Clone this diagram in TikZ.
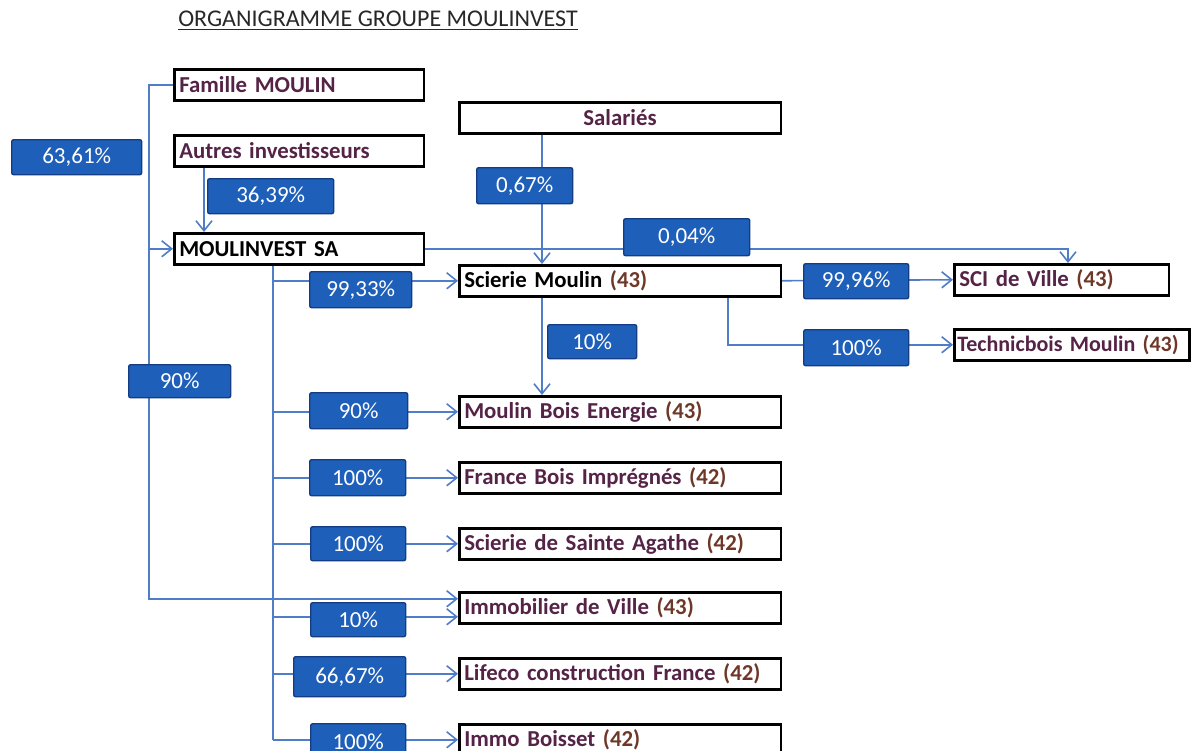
\documentclass[tikz,border=0pt]{standalone}
\usepackage{fontspec}
\setmainfont{Carlito}
\usetikzlibrary{arrows.meta}
\definecolor{txt}{RGB}{85,35,70}
\definecolor{num}{RGB}{110,55,40}
\definecolor{lnk}{RGB}{80,125,200}
\definecolor{lblue}{RGB}{30,95,185}
\definecolor{dblue}{RGB}{20,60,130}
\newcommand{\nb}[1]{\textcolor{num}{#1}}
\tikzset{
  obox/.style={draw=black, line width=1.25pt, fill=white, inner xsep=2.5pt, inner ysep=0pt,
    minimum height=15.5pt, text width=#1, align=left, anchor=north west,
    font=\fontsize{11.4pt}{13pt}\selectfont\bfseries, text=txt},
  pct/.style={fill=lblue, draw=dblue, line width=0.7pt, rounded corners=1pt, text=white,
    inner sep=0pt, anchor=north west, font=\fontsize{11.5pt}{13pt}\selectfont},
  conn/.style={draw=lnk, line width=0.8pt},
  arr/.style={conn, -{Straight Barb[length=5pt,width=8pt,line width=0.8pt]}}
}
\begin{document}
\begin{tikzpicture}[x=0.5pt,y=-0.5pt]
\useasboundingbox (0,0) rectangle (1192,750);
\clip (0,0) rectangle (1192,750);
\fill[white] (0,0) rectangle (1192,750);
% title
\node[font=\fontsize{12pt}{14pt}\selectfont, text={rgb,255:red,40;green,40;blue,40}, inner sep=0pt] (title) at (378,21) {\underline{ORGANIGRAMME GROUPE MOULINVEST}};
% boxes
\node[obox=119.75pt] (fam) at (173,68) {Famille MOULIN};
\node[obox=119.75pt] (aut) at (173,134) {Autres investisseurs};
\node[obox=119.75pt, text=black] (mi) at (173,232) {MOULINVEST SA};
\node[obox=155.75pt, align=center] (sal) at (458,101) {Salariés};
\node[obox=155.75pt, text=black] (sci) at (458,264) {Scierie Moulin \nb{(43)}};
\node[obox=102.25pt] (scv) at (953,263) {SCI de Ville \nb{(43)}};
\node[obox=114.5pt, inner xsep=1.5pt, font=\fontsize{11pt}{13pt}\selectfont\bfseries] (tech) at (953,328) {Technicbois Moulin \nb{(43)}};
\node[obox=155.75pt] (mbe) at (458,395) {Moulin Bois Energie \nb{(43)}};
\node[obox=155.75pt] (fbi) at (458,461) {France Bois Imprégnés \nb{(42)}};
\node[obox=155.75pt] (ssa) at (458,527) {Scierie de Sainte Agathe \nb{(42)}};
\node[obox=155.75pt] (imm) at (458,591) {Immobilier de Ville \nb{(43)}};
\node[obox=155.75pt] (lif) at (458,657) {Lifeco construction France \nb{(42)}};
\node[obox=155.75pt] (boi) at (458,723) {Immo Boisset \nb{(42)}};
% helper coordinates
\coordinate (L) at (149,0);
\coordinate (A) at (204,0);
\coordinate (B) at (273,0);
\coordinate (S) at (542,0);
\coordinate (T) at (728,0);
\coordinate (V) at (1068,0);
\coordinate (immA) at ([yshift=4.5pt]imm.west);
\coordinate (immB) at ([yshift=-4.5pt]imm.west);
% connectors
\draw[arr] (fam.west) -- (L |- fam.west) -- (L |- immA) -- (immA);
\draw[arr] (L |- mi.west) -- (mi.west);
\draw[arr] (A |- aut.south) -- (A |- mi.north);
\draw[arr] (S |- sal.south) -- (S |- sci.north);
\draw[arr] (S |- sci.south) -- (S |- mbe.north);
\draw[arr] (mi.east) -- (V |- mi.east) -- (V |- scv.north);
\draw[arr] (sci.east) -- (scv.west);
\draw[arr] (T |- sci.south) -- (T |- tech.west) -- (tech.west);
\draw[conn] (B |- mi.south) -- (B |- boi.west);
\draw[arr] (B |- sci.west) -- (sci.west);
\draw[arr] (B |- mbe.west) -- (mbe.west);
\draw[arr] (B |- fbi.west) -- (fbi.west);
\draw[arr] (B |- ssa.west) -- (ssa.west);
\draw[arr] (B |- immB) -- (immB);
\draw[arr] (B |- lif.west) -- (lif.west);
\draw[arr] (B |- boi.west) -- (boi.west);
% percentage labels
\node[pct, minimum width=65pt, minimum height=17.5pt] (p1) at (11,139) {63,61\%};
\node[pct, minimum width=63pt, minimum height=17.5pt] (p2) at (207,178) {36,39\%};
\node[pct, minimum width=48pt, minimum height=18pt] (p3) at (476,167) {0,67\%};
\node[pct, minimum width=63pt, minimum height=18.5pt] (p4) at (623,218) {0,04\%};
\node[pct, minimum width=51pt, minimum height=18pt] (p5) at (309,271) {99,33\%};
\node[pct, minimum width=52.5pt, minimum height=17.5pt] (p6) at (803,263) {99,96\%};
\node[pct, minimum width=52.5pt, minimum height=18pt] (p7) at (803,329) {100\%};
\node[pct, minimum width=44.5pt, minimum height=17pt] (p8) at (547,324) {10\%};
\node[pct, minimum width=51pt, minimum height=16.5pt] (p9) at (128,364) {90\%};
\node[pct, minimum width=49pt, minimum height=18pt] (p10) at (309,392) {90\%};
\node[pct, minimum width=48pt, minimum height=18pt] (p11) at (309,459) {100\%};
\node[pct, minimum width=47.5pt, minimum height=17pt] (p12) at (310,526) {100\%};
\node[pct, minimum width=47.5pt, minimum height=17pt] (p13) at (310,602) {10\%};
\node[pct, minimum width=56pt, minimum height=20pt] (p14) at (293,656) {66,67\%};
\node[pct, minimum width=47.5pt, minimum height=18.5pt] (p15) at (310,723) {100\%};
\end{tikzpicture}
\end{document}
